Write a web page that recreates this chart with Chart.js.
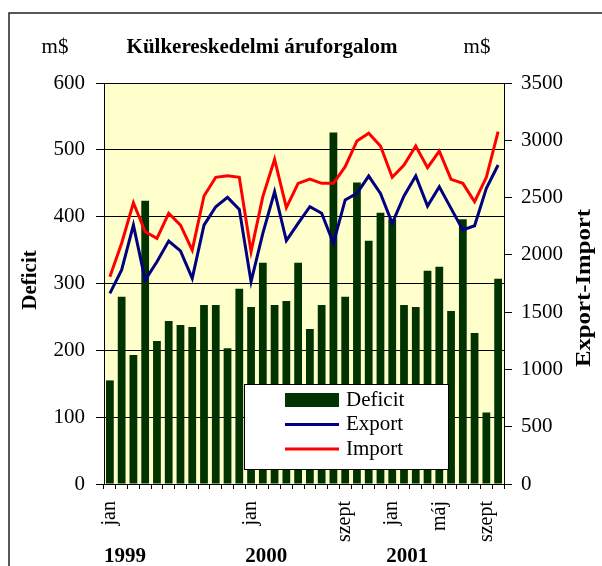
<!DOCTYPE html>
<html>
<head>
<meta charset="utf-8">
<script src="https://cdn.jsdelivr.net/npm/chart.js@4.4.1/dist/chart.umd.min.js"></script>
<style>
  html, body { margin: 0; padding: 0; background: #fff; }
</style>
</head>
<body>
<canvas id="chart" width="602" height="566"></canvas>
<script>
// months jan 1999 .. okt 2001
const categories = [
  '1999 jan','1999 febr','1999 márc','1999 ápr','1999 máj','1999 jún','1999 júl','1999 aug','1999 szept','1999 okt','1999 nov','1999 dec',
  '2000 jan','2000 febr','2000 márc','2000 ápr','2000 máj','2000 jún','2000 júl','2000 aug','2000 szept','2000 okt','2000 nov','2000 dec',
  '2001 jan','2001 febr','2001 márc','2001 ápr','2001 máj','2001 jún','2001 júl','2001 aug','2001 szept','2001 okt'
];
const tickLabels = [
  'jan','','','','','','','','','','','',
  'jan','','','','','','','','szept','','','',
  'jan','','','','máj','','','','szept',''
];
const years = ['1999', '2000', '2001'];
const yearStart = [0, 12, 24];

const deficit = [155,280,193,424,214,244,238,235,268,268,203,292,265,331,268,274,331,232,268,526,
                 280,451,364,406,396,268,265,319,325,259,396,226,107,307];
const exportVals = [1664,1868,2260,1780,1940,2121,2034,1795,2260,2420,2502,2397,1766,2188,2551,2124,2275,2420,2363,2101,
                    2479,2537,2688,2537,2275,2514,2688,2426,2595,2406,2217,2254,2580,2784];
const importVals = [1809,2101,2455,2202,2144,2363,2260,2042,2514,2677,2691,2677,2028,2508,2834,2412,2624,2662,2624,2624,
                    2770,2994,3061,2950,2677,2784,2950,2761,2906,2659,2624,2464,2677,3075];

const FONT = '"Liberation Serif", "Times New Roman", serif';

// draw vertical text reading bottom-to-top, stretched to a given length
function vText(ctx, text, cx, cy, len) {
  ctx.save();
  ctx.translate(cx, cy);
  ctx.rotate(-Math.PI / 2);
  const w = ctx.measureText(text).width;
  if (len) ctx.scale(len / w, 1);
  ctx.fillText(text, 0, 0);
  ctx.restore();
}

const decor = {
  id: 'decor',
  beforeDraw(chart) {
    const { ctx, chartArea: a } = chart;
    ctx.save();
    // outer frame
    ctx.strokeStyle = '#222';
    ctx.lineWidth = 1.5;
    ctx.strokeRect(9, 13, chart.width + 10, chart.height + 10);
    // plot background
    ctx.fillStyle = '#FFFFCC';
    ctx.fillRect(a.left, a.top, a.right - a.left, a.bottom - a.top);
    ctx.strokeStyle = '#808080';
    ctx.lineWidth = 1;
    ctx.strokeRect(a.left + 0.5, a.top + 0.5, a.right - a.left, a.bottom - a.top);
    ctx.restore();
  },
  afterDraw(chart) {
    const { ctx } = chart;
    const x = chart.scales.x;
    ctx.save();
    ctx.fillStyle = '#000';
    ctx.textBaseline = 'alphabetic';

    // title and units
    ctx.font = 'bold 21px ' + FONT;
    ctx.textAlign = 'center';
    ctx.fillText('Külkereskedelmi áruforgalom', 262, 53);
    ctx.font = '21px ' + FONT;
    ctx.fillText('m$', 55, 53);
    ctx.fillText('m$', 477, 53);

    // axis titles
    ctx.font = 'bold 21px ' + FONT;
    ctx.textBaseline = 'middle';
    vText(ctx, 'Deficit', 31, 280);
    vText(ctx, 'Export-Import', 585, 288, 158);

    // years under the month ticks
    const half = (x.getPixelForValue(1) - x.getPixelForValue(0)) / 2;
    ctx.textAlign = 'left';
    ctx.textBaseline = 'alphabetic';
    years.forEach((y, i) => {
      ctx.fillText(y, x.getPixelForValue(yearStart[i]) - half, 562);
    });

    // legend
    const lx = 244, ly = 384, lw = 204, lh = 85;
    ctx.fillStyle = '#fff';
    ctx.fillRect(lx, ly, lw, lh);
    ctx.strokeStyle = '#000';
    ctx.lineWidth = 1;
    ctx.strokeRect(lx + 0.5, ly + 0.5, lw, lh);
    ctx.font = '21px ' + FONT;
    ctx.textBaseline = 'middle';
    chart.data.datasets.forEach((ds, i) => {
      const cy = ly + 16 + i * 24.5;
      if (ds.type === 'bar') {
        ctx.fillStyle = ds.backgroundColor;
        ctx.fillRect(lx + 41, cy - 7, 54, 14);
      } else {
        ctx.strokeStyle = ds.borderColor;
        ctx.lineWidth = 3;
        ctx.beginPath();
        ctx.moveTo(lx + 41, cy);
        ctx.lineTo(lx + 95, cy);
        ctx.stroke();
      }
      ctx.fillStyle = '#000';
      ctx.fillText(ds.label, lx + 102, cy);
    });
    ctx.restore();
  }
};

new Chart(document.getElementById('chart'), {
  data: {
    labels: categories,
    datasets: [
      { type: 'bar', label: 'Deficit', data: deficit, yAxisID: 'y', backgroundColor: '#003300',
        barPercentage: 1, categoryPercentage: 0.66, order: 3 },
      { type: 'line', label: 'Export', data: exportVals, yAxisID: 'y1', borderColor: '#000080',
        borderWidth: 3, pointRadius: 0, tension: 0, order: 1 },
      { type: 'line', label: 'Import', data: importVals, yAxisID: 'y1', borderColor: '#FF0000',
        borderWidth: 3, pointRadius: 0, tension: 0, order: 2 }
    ]
  },
  options: {
    responsive: false,
    animation: false,
    layout: { padding: { top: 83, left: 0, right: 0, bottom: 0 } },
    plugins: { legend: { display: false }, tooltip: { enabled: false } },
    scales: {
      x: {
        grid: { offset: true, drawOnChartArea: false, color: '#000', tickLength: 5 },
        border: { color: '#000' },
        ticks: {
          autoSkip: false, minRotation: 90, maxRotation: 90, padding: 12,
          color: '#000', font: { family: FONT, size: 20 },
          callback: (v, i) => tickLabels[i]
        },
        afterFit: s => { s.height = 82; }
      },
      y: {
        position: 'left', min: 0, max: 600,
        ticks: { stepSize: 100, padding: 11, color: '#000', font: { family: FONT, size: 21 },
                 callback: v => String(v) },
        grid: { color: '#000', tickLength: 8 },
        border: { color: '#000' },
        afterFit: s => { s.width = 104; }
      },
      y1: {
        position: 'right', min: 0, max: 3500,
        ticks: { stepSize: 500, padding: 9, color: '#000', font: { family: FONT, size: 21 },
                 callback: v => String(v) },
        grid: { drawOnChartArea: false, color: '#000', tickLength: 8 },
        border: { color: '#000' },
        afterFit: s => { s.width = 98; }
      }
    }
  },
  plugins: [decor]
});
</script>
</body>
</html>
